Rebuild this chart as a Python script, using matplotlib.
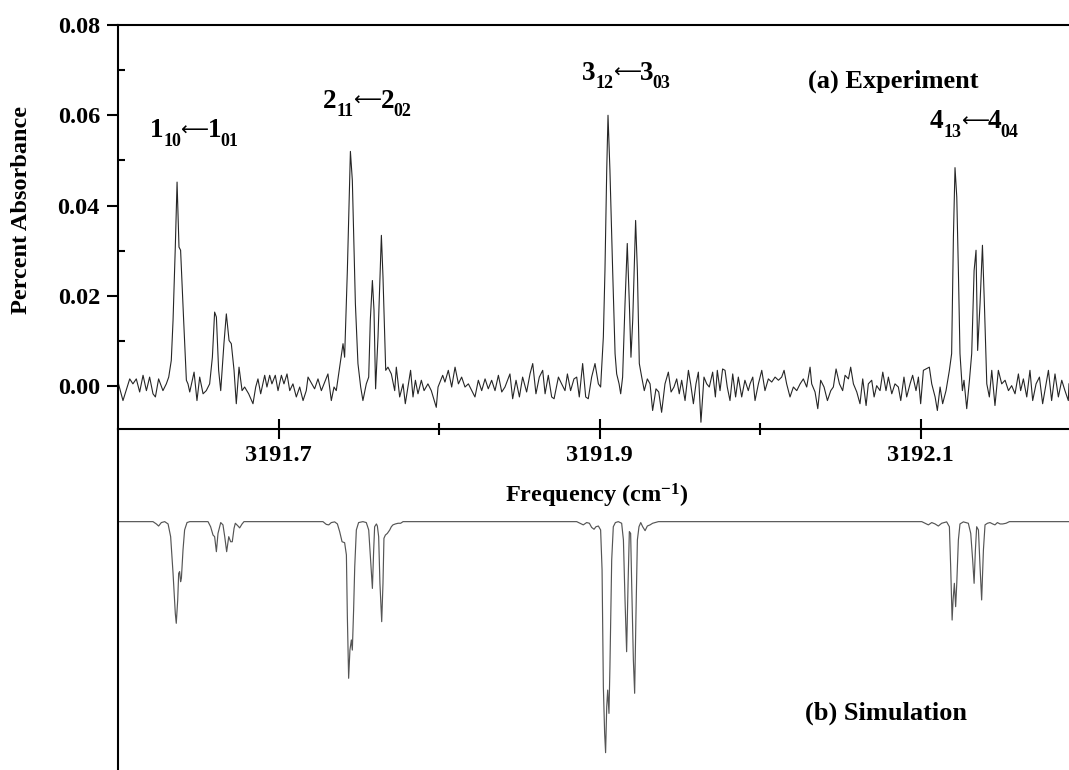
#!/usr/bin/env python3
# asym-stretch band of the C-H stretch: experiment vs simulated stick spectrum

import numpy as np
import matplotlib
matplotlib.use("Agg")
import matplotlib.pyplot as plt

# ---------------- Data ----------------
NU0 = 3191.6  # wavenumbers below are offsets from this value (cm-1)

# experimental trace: offset (cm-1), percent absorbance x 1e-3
exp_offset = [
    0.0000, 0.0031, 0.0073, 0.0093, 0.0114, 0.0135, 0.0156, 0.0177, 0.0197, 0.0218,
    0.0233, 0.0253, 0.0280, 0.0301, 0.0316, 0.0332, 0.0343, 0.0357, 0.0368, 0.0380,
    0.0390, 0.0409, 0.0426, 0.0436, 0.0447, 0.0474, 0.0492, 0.0509, 0.0530, 0.0550,
    0.0571, 0.0588, 0.0602, 0.0613, 0.0627, 0.0640, 0.0660, 0.0675, 0.0692, 0.0706,
    0.0723, 0.0737, 0.0754, 0.0773, 0.0789, 0.0814, 0.0841, 0.0858, 0.0872, 0.0889,
    0.0914, 0.0928, 0.0945, 0.0959, 0.0980, 0.0997, 0.1018, 0.1034, 0.1053, 0.1070,
    0.1090, 0.1111, 0.1132, 0.1153, 0.1173, 0.1184, 0.1225, 0.1246, 0.1267, 0.1308,
    0.1329, 0.1346, 0.1360, 0.1387, 0.1402, 0.1412, 0.1429, 0.1448, 0.1460, 0.1479,
    0.1495, 0.1512, 0.1526, 0.1547, 0.1562, 0.1572, 0.1585, 0.1595, 0.1605, 0.1620,
    0.1641, 0.1651, 0.1668, 0.1682, 0.1703, 0.1724, 0.1734, 0.1755, 0.1776, 0.1790,
    0.1823, 0.1838, 0.1853, 0.1869, 0.1890, 0.1907, 0.1931, 0.1952, 0.1983, 0.1994,
    0.2002, 0.2023, 0.2037, 0.2058, 0.2079, 0.2100, 0.2121, 0.2141, 0.2162, 0.2183,
    0.2204, 0.2224, 0.2245, 0.2266, 0.2287, 0.2307, 0.2328, 0.2349, 0.2370, 0.2391,
    0.2411, 0.2442, 0.2459, 0.2480, 0.2501, 0.2521, 0.2546, 0.2567, 0.2584, 0.2604,
    0.2625, 0.2646, 0.2661, 0.2681, 0.2702, 0.2717, 0.2744, 0.2764, 0.2785, 0.2800,
    0.2820, 0.2841, 0.2858, 0.2874, 0.2895, 0.2914, 0.2930, 0.2951, 0.2972, 0.2993,
    0.3007, 0.3024, 0.3034, 0.3045, 0.3053, 0.3065, 0.3082, 0.3097, 0.3107, 0.3122,
    0.3132, 0.3144, 0.3159, 0.3173, 0.3186, 0.3196, 0.3207, 0.3225, 0.3236, 0.3248,
    0.3263, 0.3279, 0.3298, 0.3315, 0.3331, 0.3352, 0.3369, 0.3387, 0.3408, 0.3429,
    0.3446, 0.3464, 0.3481, 0.3497, 0.3512, 0.3533, 0.3554, 0.3568, 0.3585, 0.3601,
    0.3616, 0.3632, 0.3651, 0.3668, 0.3684, 0.3705, 0.3722, 0.3734, 0.3751, 0.3767,
    0.3782, 0.3796, 0.3813, 0.3830, 0.3848, 0.3865, 0.3886, 0.3906, 0.3927, 0.3938,
    0.3955, 0.3969, 0.3990, 0.4011, 0.4031, 0.4052, 0.4073, 0.4094, 0.4115, 0.4135,
    0.4150, 0.4166, 0.4187, 0.4208, 0.4229, 0.4250, 0.4270, 0.4291, 0.4312, 0.4322,
    0.4343, 0.4360, 0.4378, 0.4399, 0.4420, 0.4441, 0.4457, 0.4474, 0.4495, 0.4515,
    0.4530, 0.4551, 0.4565, 0.4582, 0.4603, 0.4623, 0.4640, 0.4661, 0.4675, 0.4696,
    0.4711, 0.4727, 0.4748, 0.4765, 0.4785, 0.4800, 0.4821, 0.4841, 0.4862, 0.4877,
    0.4897, 0.4914, 0.4935, 0.4951, 0.4972, 0.4987, 0.5001, 0.5018, 0.5055, 0.5070,
    0.5091, 0.5105, 0.5122, 0.5138, 0.5159, 0.5180, 0.5194, 0.5205, 0.5215, 0.5226,
    0.5236, 0.5246, 0.5261, 0.5271, 0.5288, 0.5305, 0.5319, 0.5334, 0.5346, 0.5356,
    0.5371, 0.5386, 0.5398, 0.5413, 0.5429, 0.5444, 0.5464, 0.5485, 0.5506, 0.5527,
    0.5548, 0.5568, 0.5589, 0.5610, 0.5624, 0.5641, 0.5662, 0.5682, 0.5699, 0.5720,
    0.5741, 0.5761, 0.5782, 0.5797, 0.5817, 0.5838, 0.5859, 0.5880, 0.5900, 0.5921,
    0.5925,
]
exp_absorb_milli = [
    0.9, -3.2, 1.6, 0.5, 1.6, -1.3, 2.4, -1.0, 2.0, -1.7,
    -2.4, 1.6, -1.0, 0.5, 2.0, 5.7, 14.6, 30.8, 45.2, 30.8,
    30.1, 14.6, 1.3, 0.5, -1.3, 3.1, -3.2, 2.0, -1.7, -1.0,
    0.5, 6.4, 16.4, 15.3, 3.5, -1.0, 9.4, 16.0, 10.1, 9.4,
    3.5, -3.9, 4.2, -1.0, -0.2, -1.7, -3.9, -0.2, 1.6, -1.7,
    2.4, -0.2, 2.4, 0.5, 2.4, -1.0, 2.4, 0.5, 2.7, -1.0,
    0.5, -2.4, -0.2, -3.2, -1.0, 2.0, -0.6, 1.6, -1.0, 2.7,
    -3.2, -0.2, -1.0, 5.7, 9.4, 6.4, 25.6, 52.0, 45.6, 18.3,
    5.0, -0.2, -3.2, 0.5, 2.0, 14.6, 23.4, 16.8, -0.6, 10.9,
    33.4, 24.2, 3.5, 4.2, 2.7, -1.0, 4.2, -2.4, 0.5, -3.9,
    3.5, -2.4, 1.3, -1.7, 1.3, -1.0, 0.5, -1.0, -4.7, -0.2,
    0.5, 2.4, 0.9, 3.5, -0.2, 4.2, 0.5, 2.0, -0.2, 0.5,
    -1.0, -2.4, 1.3, -1.0, 1.6, -0.6, 1.3, -1.0, 2.4, -1.3,
    -0.2, 2.7, -2.8, 1.3, -2.4, 2.0, -1.3, 2.7, 5.0, -1.7,
    2.0, 3.5, -1.7, 2.4, -2.4, -2.8, 2.0, 0.5, -1.0, 2.7,
    -1.0, 1.6, 2.0, -2.4, 5.0, -2.4, -2.8, 2.0, 5.0, 0.5,
    -0.2, 10.9, 25.6, 47.8, 60.0, 47.8, 25.6, 7.2, 2.7, 0.5,
    -1.7, 2.0, 18.3, 31.6, 18.3, 6.4, 14.6, 36.7, 25.6, 5.0,
    2.0, -1.0, 1.6, 0.5, -5.4, -0.6, -1.3, -5.8, 0.5, 3.1,
    -1.3, -0.2, 1.6, -1.7, 1.3, -3.2, 3.5, 0.5, -3.9, 0.5,
    3.1, -8.0, 2.0, 0.5, -0.2, 3.1, -2.4, 3.5, -1.0, 3.8,
    3.5, -0.2, -3.2, 2.7, -2.4, 2.0, -2.4, 1.3, -1.0, 0.5,
    2.0, -3.2, 0.5, 3.5, -1.0, 1.6, 0.9, 2.0, 1.3, 2.0,
    3.5, 0.5, -2.4, -0.2, -1.0, 0.5, 1.6, -0.2, 4.2, 0.5,
    -1.3, -5.0, 1.3, -0.2, -3.2, -1.0, -0.2, 3.8, 0.5, -1.0,
    2.4, 1.6, 4.2, 0.5, -1.3, -3.9, 1.6, -4.3, 0.5, 1.3,
    -2.4, 0.1, -1.0, 3.1, -1.0, 2.0, -1.7, 0.5, -0.2, -3.2,
    2.0, -2.4, 0.5, 2.4, -1.0, 2.0, -3.9, 3.5, 4.2, 0.5,
    -2.4, -5.4, -0.2, -3.9, -1.0, 3.5, 7.2, 33.0, 48.4, 41.9,
    25.6, 7.2, -1.0, 1.3, -5.0, 1.3, 7.2, 25.6, 30.1, 7.9,
    18.3, 31.2, 18.3, 0.5, -2.4, 3.5, -4.3, 3.5, 0.5, 1.3,
    -1.0, 0.1, -1.7, 2.7, -1.0, 1.6, -2.4, 3.5, -3.2, 0.5,
    2.0, -3.9, 0.5, 3.5, -3.2, 2.7, -2.4, 1.3, -1.0, -3.2,
    0.5,
]

# simulated spectrum (drawn inverted): offset (cm-1), relative intensity
sim_offset = [
    0.0000, 0.0218, 0.0239, 0.0253, 0.0270, 0.0291, 0.0312, 0.0328, 0.0343, 0.0357,
    0.0363, 0.0372, 0.0378, 0.0384, 0.0390, 0.0395, 0.0405, 0.0415, 0.0430, 0.0447,
    0.0561, 0.0577, 0.0592, 0.0602, 0.0613, 0.0623, 0.0640, 0.0654, 0.0665, 0.0677,
    0.0690, 0.0702, 0.0712, 0.0723, 0.0731, 0.0748, 0.0758, 0.0773, 0.0785, 0.1277,
    0.1298, 0.1313, 0.1329, 0.1350, 0.1367, 0.1381, 0.1396, 0.1412, 0.1423, 0.1429,
    0.1437, 0.1445, 0.1454, 0.1460, 0.1468, 0.1475, 0.1485, 0.1499, 0.1526, 0.1547,
    0.1562, 0.1574, 0.1585, 0.1593, 0.1599, 0.1610, 0.1616, 0.1624, 0.1632, 0.1643,
    0.1651, 0.1657, 0.1666, 0.1678, 0.1693, 0.1703, 0.1713, 0.1728, 0.1745, 0.1761,
    0.1776, 0.2858, 0.2879, 0.2899, 0.2920, 0.2937, 0.2951, 0.2966, 0.2978, 0.2993,
    0.3007, 0.3016, 0.3024, 0.3032, 0.3038, 0.3045, 0.3051, 0.3059, 0.3065, 0.3076,
    0.3086, 0.3099, 0.3117, 0.3138, 0.3149, 0.3159, 0.3169, 0.3178, 0.3186, 0.3194,
    0.3200, 0.3211, 0.3219, 0.3227, 0.3236, 0.3246, 0.3257, 0.3269, 0.3284, 0.3298,
    0.3315, 0.3331, 0.3346, 0.3367, 0.5008, 0.5028, 0.5049, 0.5070, 0.5091, 0.5111,
    0.5132, 0.5163, 0.5180, 0.5188, 0.5197, 0.5203, 0.5211, 0.5219, 0.5226, 0.5236,
    0.5246, 0.5267, 0.5298, 0.5313, 0.5325, 0.5334, 0.5342, 0.5350, 0.5361, 0.5371,
    0.5381, 0.5392, 0.5402, 0.5417, 0.5433, 0.5450, 0.5464, 0.5479, 0.5496, 0.5512,
    0.5533, 0.5554, 0.6000,
]
sim_intensity = [
    0.0, 0.0, -0.010, -0.019, -0.004, 0.0, -0.010, -0.065, -0.224, -0.397,
    -0.440, -0.339, -0.224, -0.216, -0.260, -0.245, -0.123, -0.036, -0.004, 0.0,
    0.0, -0.022, -0.058, -0.065, -0.130, -0.051, -0.004, -0.014, -0.065, -0.130,
    -0.065, -0.087, -0.087, -0.029, -0.007, -0.019, -0.027, -0.010, 0.0, 0.0,
    -0.012, -0.014, -0.004, -0.001, -0.010, -0.043, -0.087, -0.091, -0.144, -0.411,
    -0.678, -0.556, -0.512, -0.556, -0.382, -0.195, -0.036, -0.004, 0.0, -0.004,
    -0.036, -0.166, -0.289, -0.123, -0.022, -0.010, -0.019, -0.065, -0.267, -0.433,
    -0.267, -0.072, -0.058, -0.051, -0.036, -0.022, -0.014, -0.010, -0.007, -0.007,
    0.0, 0.0, -0.007, -0.014, -0.004, -0.007, -0.025, -0.033, -0.022, -0.019,
    -0.036, -0.209, -0.714, -0.916, -1.000, -0.801, -0.729, -0.830, -0.628, -0.166,
    -0.022, -0.004, 0.0, -0.007, -0.079, -0.339, -0.563, -0.267, -0.043, -0.051,
    -0.253, -0.599, -0.743, -0.411, -0.079, -0.022, -0.004, -0.022, -0.039, -0.019,
    -0.014, -0.007, -0.004, 0.0, 0.0, -0.007, -0.014, -0.004, -0.010, -0.019,
    -0.007, -0.001, -0.022, -0.195, -0.426, -0.339, -0.267, -0.368, -0.267, -0.079,
    -0.010, -0.001, -0.007, -0.051, -0.166, -0.267, -0.123, -0.022, -0.036, -0.195,
    -0.339, -0.123, -0.014, -0.007, -0.004, -0.010, -0.014, -0.004, -0.010, -0.010,
    -0.007, 0.0, 0.0,
]

# transition labels J_{KaKc} <- J_{KaKc}, anchored at their left edge / baseline
transitions = [("1", "10", "1", "01"), ("2", "11", "2", "02"),
               ("3", "12", "3", "03"), ("4", "13", "4", "04")]
label_nu = [3191.6199, 3191.7277, 3191.8891, 3192.1059]
label_y = [0.0551, 0.0616, 0.0678, 0.0571]

# ---------------- Style ----------------
plt.rcParams["font.family"] = ["Liberation Serif", "DejaVu Serif"]
plt.rcParams["font.weight"] = "bold"
plt.rcParams["mathtext.fontset"] = "custom"
plt.rcParams["mathtext.rm"] = "Liberation Serif:bold"
plt.rcParams["mathtext.bf"] = "Liberation Serif:bold"
plt.rcParams["mathtext.it"] = "Liberation Serif:bold"

W, H = 1069, 770
fig = plt.figure(figsize=(W / 100, H / 100), dpi=100)

x_left = 118 / W
x_width = 963 / W          # right spine falls just outside the canvas
y_axis = 429               # pixel row of the shared frequency axis
y_top = 25

ax_sim = fig.add_axes([x_left, 0, x_width, 1 - y_axis / H])
ax = fig.add_axes([x_left, 1 - y_axis / H, x_width, (y_axis - y_top) / H])
ax.patch.set_alpha(0)
ax_sim.patch.set_alpha(0)

nu_exp = NU0 + np.array(exp_offset)
absorb = np.array(exp_absorb_milli) / 1000.0
nu_sim = NU0 + np.array(sim_offset)

ax.plot(nu_exp, absorb, color="#262626", lw=0.8)
ax_sim.plot(nu_sim, sim_intensity, color="#555555", lw=0.85)

ax.set_xlim(3191.6, 3192.2)
ax_sim.set_xlim(3191.6, 3192.2)
ax.set_ylim(-0.0095, 0.08)
ax_sim.set_ylim(-1.075, 0.401)

# ---------- spines / ticks ----------
lw_axis = 1.5
for s in ("left", "top", "bottom", "right"):
    ax.spines[s].set_linewidth(lw_axis)
for s in ("top", "bottom", "right"):
    ax_sim.spines[s].set_visible(False)
ax_sim.spines["left"].set_linewidth(lw_axis)
ax_sim.set_yticks([])
ax_sim.set_xticks([])

ax.set_yticks([0.00, 0.02, 0.04, 0.06, 0.08])
ax.set_yticks([0.01, 0.03, 0.05, 0.07], minor=True)
ax.set_yticklabels(["0.00", "0.02", "0.04", "0.06", "0.08"])
ax.set_xticks([3191.7, 3191.9, 3192.1])
ax.set_xticks([3191.8, 3192.0], minor=True)
ax.set_xticklabels(["3191.7", "3191.9", "3192.1"])

ax.tick_params(axis="y", which="major", direction="out", length=8, width=1.5,
               labelsize=17.5, pad=5)
ax.tick_params(axis="y", which="minor", direction="in", length=5, width=1.5)
ax.tick_params(axis="x", which="major", direction="inout", length=15, width=1.5,
               labelsize=17.5, pad=4)
ax.tick_params(axis="x", which="minor", direction="inout", length=8, width=1.5)
ax.tick_params(top=False, right=False)
for lab in ax.get_xticklabels() + ax.get_yticklabels():
    lab.set_fontweight("bold")

# ---------- labels ----------
fig.text(22 / W, 1 - 210 / H, "Percent Absorbance", rotation=90,
         ha="center", va="center", fontsize=17.5, fontweight="bold")
fig.text(597 / W, 1 - 502 / H, r"Frequency (cm$^{\mathrm{-1}}$)",
         ha="center", va="baseline", fontsize=17.5, fontweight="bold")

# each label is built from pieces: big J, lowered KaKc, arrow, big J, lowered KaKc
big, small = 19.5, 13
for (ju, ku, jl, kl), xn, yv in zip(transitions, label_nu, label_y):
    pieces = [
        (ju, big, 0.0, 0.0, "bold", None),
        (ku, small, 9.6, -6.0, "bold", None),
        ("\u27f5", 14, 22.0, 1.5, "normal", ["DejaVu Sans"]),
        (jl, big, 41.5, 0.0, "bold", None),
        (kl, small, 51.0, -6.0, "bold", None),
    ]
    for s, fs, dx, dy, wt, fam in pieces:
        t = ax.annotate(s, xy=(xn, yv), xytext=(dx, dy), textcoords="offset points",
                        ha="left", va="baseline", fontsize=fs, fontweight=wt)
        if fam:
            t.set_fontfamily(fam)

ax.text(3192.0299, 0.0662, "(a) Experiment", ha="left", va="baseline",
        fontsize=19, fontweight="bold")
ax_sim.text(3192.0280, -0.858, "(b) Simulation", ha="left", va="baseline",
            fontsize=19, fontweight="bold")

fig.savefig("out.png", dpi=100)
